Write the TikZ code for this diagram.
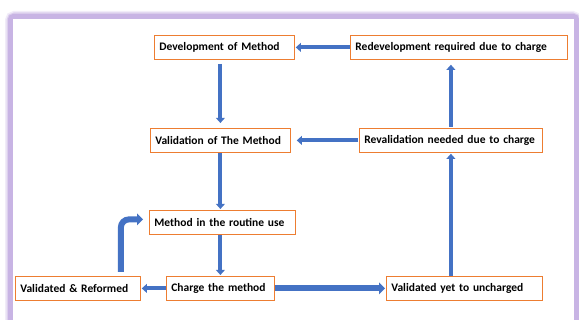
\documentclass[tikz,border=0pt]{standalone}
\usepackage{fontspec}
\setmainfont{Carlito}
\usetikzlibrary{arrows.meta,positioning}

\definecolor{boxorange}{RGB}{237,125,49}
\definecolor{flowblue}{RGB}{68,114,196}
\definecolor{framepurple}{RGB}{200,180,228}

\tikzset{
  stage/.style={draw=boxorange, fill=white, line width=0.8pt, anchor=north west,
    inner xsep=5pt, inner ysep=0pt, align=left, minimum height=24pt,
    font=\bfseries\fontsize{11.5}{13}\selectfont},
  flow/.style={draw=flowblue, line width=4pt,
    -{Triangle[length=5pt,width=9pt,line width=0pt]}},
  bigflow/.style={flow, line width=6pt,
    -{Triangle[length=6pt,width=12pt,line width=0pt]}}
}

\begin{document}
\begin{tikzpicture}[x=1pt,y=-1pt]
      \useasboundingbox (0,0) rectangle (579,320);
      \clip (0,0) rectangle (579,320);
      \fill[white] (0,0) rectangle (579,320);
      \draw[framepurple, opacity=0.25, line width=11pt, rounded corners=4pt] (10.5,16.5) rectangle (576.5,340);
      \draw[framepurple, opacity=0.5, line width=8pt, rounded corners=4pt] (10.5,16.5) rectangle (576.5,340);
      \draw[framepurple, line width=5pt, rounded corners=3pt] (10.5,16.5) rectangle (576.5,340);
      \fill[white] (13,19) rectangle (574,340);

      \node[stage, text width=130pt] (dev) at (154,35) {Development of Method};
      \node[stage, text width=207pt] (redev) at (350,35) {Redevelopment required due to charge};
      \node[stage, text width=130pt] (val) at (150,128) {Validation of The Method};
      \node[stage, text width=173pt] (reval) at (359,128) {Revalidation needed due to charge};
      \node[stage, text width=136pt] (use) at (149,210) {Method in the routine use};
      \node[stage, text width=115pt] (reform) at (15,276) {Validated \& Reformed};
      \node[stage, text width=98pt] (charge) at (166,276) {Charge the method};
      \node[stage, text width=146pt] (yet) at (386,276) {Validated yet to uncharged};

      \draw[flow, shorten <=4pt, shorten >=5pt] (dev.south -| val) -- (val.north);
      \draw[flow, shorten >=1pt] (val.south) -- (val.south |- use.north);
      \draw[flow, shorten >=1pt] (charge.north |- use.south) -- (charge.north);
      \draw[flow, shorten >=1pt] (charge.west) -- (reform.east);
      \draw[bigflow, shorten >=1pt] (charge.east) -- (yet.west);
      \draw[flow, shorten >=1pt] (reval.south |- yet.north) -- (reval.south);
      \draw[flow, shorten <=1pt, shorten >=5pt] (reval.north) -- (reval.north |- redev.south);
      \draw[flow, shorten <=1pt, shorten >=6pt] (reval.west) -- (val.east);
      \draw[flow, shorten >=1pt] (redev.west) -- (dev.east);
      \draw[bigflow, rounded corners=8pt, shorten <=4pt, shorten >=6pt]
        ([xshift=43pt]reform.north) |- ([yshift=3pt]use.west);
\end{tikzpicture}
\end{document}
